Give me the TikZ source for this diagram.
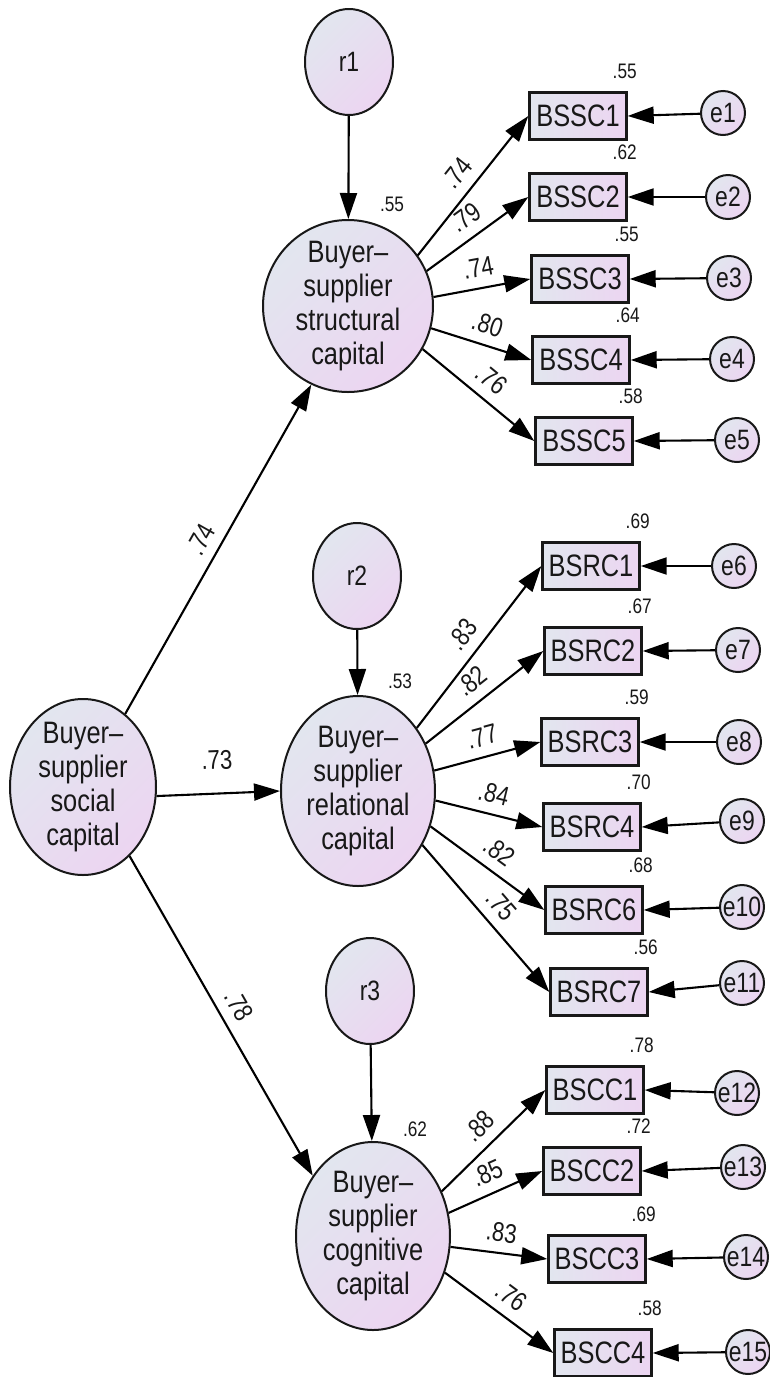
\documentclass[tikz,border=0pt]{standalone}
\usepackage{fontspec}
\setmainfont[FakeStretch=0.82]{Liberation Sans}
\usetikzlibrary{arrows.meta,shapes.geometric}

\definecolor{fillA}{RGB}{226,230,239}
\definecolor{fillB}{RGB}{236,213,241}
\definecolor{ink}{RGB}{24,24,24}

\begin{document}
\begin{tikzpicture}[x=1pt,y=-1pt,
  latent/.style={ellipse, draw=ink, line width=2pt, top color=fillA, bottom color=fillB,
    shading angle=45, inner sep=0pt},
  lattext/.style={align=center, font=\fontsize{31}{34}\selectfont, text=ink, inner sep=0pt},
  resid/.style={ellipse, draw=ink, line width=2pt, top color=fillA, bottom color=fillB,
    shading angle=45, minimum width=88pt, minimum height=106pt, inner sep=0pt,
    font=\fontsize{28}{30}\selectfont, text=ink},
  obs/.style={rectangle, draw=ink, line width=2.4pt, left color=fillA, right color=fillB,
    minimum width=97pt, minimum height=47pt, inner sep=0pt,
    font=\fontsize{31}{34}\selectfont, text=ink},
  err/.style={circle, draw=ink, line width=2pt, top color=fillA, bottom color=fillB,
    shading angle=45, minimum size=44pt, inner sep=0pt,
    font=\fontsize{28}{30}\selectfont, text=ink},
  link/.style={line width=2.1pt, draw=black, -{Triangle[length=26pt,width=17pt]}},
  coef/.style={sloped, above=9pt, inner sep=1pt, font=\fontsize{27}{29}\selectfont, text=ink},
  rsq/.style={inner sep=0pt, font=\fontsize{21}{23}\selectfont, text=ink}
]
\useasboundingbox (0,0) rectangle (769,1377);

% latent constructs
\node[latent, minimum width=146pt, minimum height=176pt,
  label={[lattext]center:{Buyer–\\supplier\\social\\capital}}] (social) at (83,787) {};
\node[latent, minimum width=170pt, minimum height=172pt,
  label={[lattext]center:{Buyer–\\supplier\\structural\\capital}}] (struct) at (348,306) {};
\node[latent, minimum width=154pt, minimum height=190pt,
  label={[lattext]center:{Buyer–\\supplier\\relational\\capital}}] (rel) at (358,791) {};
\node[latent, minimum width=154pt, minimum height=188pt,
  label={[lattext]center:{Buyer–\\supplier\\cognitive\\capital}}] (cog) at (373,1236) {};

% structural residuals
\node[resid] (r1) at (349,62) {r1};
\node[resid] (r2) at (357,576) {r2};
\node[resid] (r3) at (370,991) {r3};

% indicators
\node[obs] (bssc1) at (578,116) {BSSC1};
\node[obs] (bssc2) at (578,197) {BSSC2};
\node[obs] (bssc3) at (580,279) {BSSC3};
\node[obs] (bssc4) at (581,360) {BSSC4};
\node[obs] (bssc5) at (584,441) {BSSC5};
\node[obs] (bsrc1) at (591,566) {BSRC1};
\node[obs] (bsrc2) at (593,651) {BSRC2};
\node[obs] (bsrc3) at (590,742) {BSRC3};
\node[obs] (bsrc4) at (592,827) {BSRC4};
\node[obs] (bsrc6) at (594,910) {BSRC6};
\node[obs] (bsrc7) at (599,992) {BSRC7};
\node[obs] (bscc1) at (595,1090) {BSCC1};
\node[obs] (bscc2) at (592,1171) {BSCC2};
\node[obs] (bscc3) at (597,1259) {BSCC3};
\node[obs] (bscc4) at (603,1353) {BSCC4};

% measurement errors
\node[err] (e1) at (723,113) {e1};
\node[err] (e2) at (728,197) {e2};
\node[err] (e3) at (729,278) {e3};
\node[err] (e4) at (732,359) {e4};
\node[err] (e5) at (737,440) {e5};
\node[err] (e6) at (734,566) {e6};
\node[err] (e7) at (738,650) {e7};
\node[err] (e8) at (739,742) {e8};
\node[err] (e9) at (742,821) {e9};
\node[err] (e10) at (742,907) {e10};
\node[err] (e11) at (742,983) {e11};
\node[err] (e12) at (737,1093) {e12};
\node[err] (e13) at (743,1167) {e13};
\node[err] (e14) at (746,1257) {e14};
\node[err] (e15) at (748,1352) {e15};

% second-order paths
\draw[link] (social.60) -- node[coef]{.74} (struct.245.6);
\draw[link] (social.-7) -- node[coef, above=13pt]{.73} (rel.west);
\draw[link] (social.-56.5) -- node[coef]{.78} (cog.135.5);

% residual paths
\draw[link] (r1) -- (struct);
\draw[link] (r2) -- (rel);
\draw[link] (r3) -- (cog);

% loadings: structural capital
\draw[link] (struct.36.8) -- node[coef]{.74} (bssc1.west);
\draw[link] (struct.24.5) -- node[coef]{.79} (bssc2.west);
\draw[link] (struct.6) -- node[coef]{.74} (bssc3.west);
\draw[link] (struct.-15) -- node[coef]{.80} (bssc4.west);
\draw[link] (struct.-30) -- node[coef]{.76} (bssc5.west);

% loadings: relational capital
\draw[link] (rel.47) -- node[coef]{.83} (bsrc1.west);
\draw[link] (rel.35) -- node[coef]{.82} (bsrc2.west);
\draw[link] (rel.15.6) -- node[coef]{.77} (bsrc3.west);
\draw[link] (rel.-7.4) -- node[coef]{.84} (bsrc4.west);
\draw[link] (rel.-26.6) -- node[coef]{.82} (bsrc6.west);
\draw[link] (rel.-40.7) -- node[coef]{.75} (bsrc7.west);

% loadings: cognitive capital
\draw[link] (cog.33.7) -- node[coef]{.88} (bscc1.west);
\draw[link] (cog.17) -- node[coef]{.85} (bscc2.west);
\draw[link] (cog.-8) -- node[coef]{.83} (bscc3.west);
\draw[link] (cog.-27) -- node[coef]{.76} (bscc4.west);

% error paths
\foreach \e/\o in {e1/bssc1,e2/bssc2,e3/bssc3,e4/bssc4,e5/bssc5,
                   e6/bsrc1,e7/bsrc2,e8/bsrc3,e9/bsrc4,e10/bsrc6,e11/bsrc7,
                   e12/bscc1,e13/bscc2,e14/bscc3,e15/bscc4}
  \draw[link] (\e) -- (\o.east);

% squared multiple correlations
\foreach \o/\v in {bssc1/.55,bssc2/.62,bssc3/.55,bssc4/.64,bssc5/.58,
                   bsrc1/.69,bsrc2/.67,bsrc3/.59,bsrc4/.70,bsrc6/.68,bsrc7/.56,
                   bscc1/.78,bscc2/.72,bscc3/.69,bscc4/.58}
  \node[rsq] (rsq-\o) at ([xshift=-3pt,yshift=20pt]\o.north east) {\v};
\node[rsq] (rsq-struct) at ([xshift=44pt,yshift=15pt]struct.north) {.55};
\node[rsq] (rsq-rel) at ([xshift=42pt,yshift=14pt]rel.north) {.53};
\node[rsq] (rsq-cog) at ([xshift=42pt,yshift=12pt]cog.north) {.62};
\end{tikzpicture}
\end{document}
